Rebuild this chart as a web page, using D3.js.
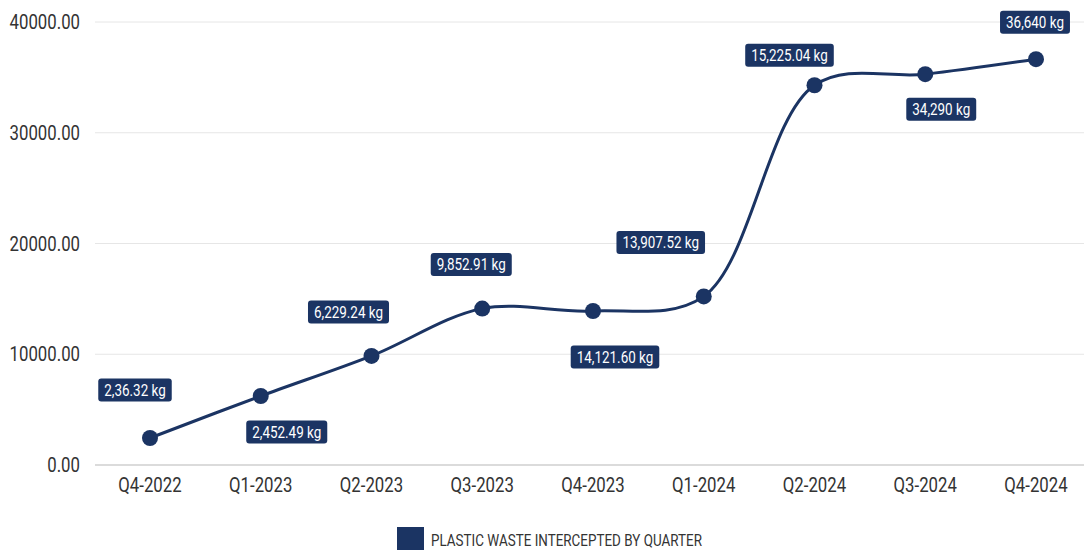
<!DOCTYPE html>
<html>
<head>
<meta charset="utf-8">
<script src="https://cdn.jsdelivr.net/npm/d3@7"></script>
<style>
  body { margin: 0; background: #fff; }
  svg text { font-family: "Roboto", "Liberation Sans", sans-serif; }
</style>
</head>
<body>
<div class="chart"></div>
<script>
// quarters on the x axis
let quarters = ['Q4-2022', 'Q1-2023', 'Q2-2023', 'Q3-2023', 'Q4-2023', 'Q1-2024', 'Q2-2024', 'Q3-2024', 'Q4-2024'];
// kg intercepted
let wasteKg = [2436, 6229, 9853, 14122, 13908, 15225, 34290, 35290, 36640];
// the label text printed next to each point (kept as shown)
let pointLabels = ['2,36.32 kg', '2,452.49 kg', '6,229.24 kg', '9,852.91 kg', '14,121.60 kg', '13,907.52 kg', '15,225.04 kg', '34,290 kg', '36,640 kg'];
let yTicks = [0, 10000, 20000, 30000, 40000];
let seriesName = 'PLASTIC WASTE INTERCEPTED BY QUARTER';

// label offsets from the point (layout only)
let labelOffsets = [[-15, -48], [26, 36], [-23, -44], [-11, -44], [22, 46], [-43, -54], [-25, -30], [16, 35], [-1, -37]];

const W = 1084, H = 550;
const navy = '#1b3463';
const squeeze = 0.84; // fake a condensed face

var svg = d3.select('.chart').append('svg')
    .attr('width', W)
    .attr('height', H);

// squeeze a text horizontally around its anchor x
function condense(sel) {
    sel.attr('transform', function () {
        let ax = +d3.select(this).attr('x') || 0;
        return 'translate(' + ax + ',0) scale(' + squeeze + ',1) translate(' + (-ax) + ',0)';
    });
}

var x = d3.scalePoint()
    .domain(quarters)
    .range([150, 1036]);
var y = d3.scaleLinear()
    .domain([0, 40000])
    .range([465, 22]);

// grid lines
svg.append('g')
    .selectAll('line')
    .data(yTicks)
    .enter().append('line')
    .attr('x1', 95)
    .attr('x2', W)
    .attr('y1', d => y(d))
    .attr('y2', d => y(d))
    .attr('stroke', d => d === 0 ? '#cfcfcf' : '#e6e6e6')
    .attr('stroke-width', d => d === 0 ? 1.5 : 1);

// y axis labels
svg.append('g')
    .selectAll('text')
    .data(yTicks)
    .enter().append('text')
    .attr('x', 80)
    .attr('y', d => y(d))
    .attr('dy', '0.36em')
    .attr('text-anchor', 'end')
    .attr('font-size', 20)
    .attr('fill', '#333')
    .text(d => d3.format('.2f')(d))
    .call(condense);

// x axis labels
svg.append('g')
    .selectAll('text')
    .data(quarters)
    .enter().append('text')
    .attr('x', d => x(d))
    .attr('y', 492)
    .attr('text-anchor', 'middle')
    .attr('font-size', 20)
    .attr('fill', '#333')
    .text(d => d)
    .call(condense);

var pts = quarters.map((q, i) => ({ q: q, v: wasteKg[i], label: pointLabels[i], off: labelOffsets[i] }));

// the line
var line = d3.line()
    .x(d => x(d.q))
    .y(d => y(d.v))
    .curve(d3.curveCatmullRom.alpha(0.5));

svg.append('path')
    .datum(pts)
    .attr('d', line)
    .attr('fill', 'none')
    .attr('stroke', navy)
    .attr('stroke-width', 3);

svg.append('g')
    .selectAll('circle')
    .data(pts)
    .enter().append('circle')
    .attr('cx', d => x(d.q))
    .attr('cy', d => y(d.v))
    .attr('r', 8)
    .attr('fill', navy);

// value labels
var lab = svg.append('g')
    .selectAll('g')
    .data(pts)
    .enter().append('g')
    .attr('transform', d => 'translate(' + (x(d.q) + d.off[0]) + ',' + (y(d.v) + d.off[1]) + ')');

lab.append('text')
    .attr('text-anchor', 'middle')
    .attr('dy', '0.36em')
    .attr('font-size', 16)
    .attr('fill', '#fff')
    .text(d => d.label)
    .call(condense);

lab.each(function () {
    let g = d3.select(this);
    let bb = g.select('text').node().getBBox();
    let w = bb.width * squeeze + 12;
    g.insert('rect', 'text')
        .attr('x', -w / 2)
        .attr('y', -11.5)
        .attr('width', w)
        .attr('height', 23)
        .attr('rx', 3)
        .attr('fill', navy);
});

// legend
var leg = svg.append('g');
leg.append('rect')
    .attr('x', 397)
    .attr('y', 527)
    .attr('width', 27)
    .attr('height', 24)
    .attr('fill', navy);
leg.append('text')
    .attr('x', 431)
    .attr('y', 546)
    .attr('font-size', 16)
    .attr('fill', '#333')
    .text(seriesName)
    .call(condense);
</script>
</body>
</html>
